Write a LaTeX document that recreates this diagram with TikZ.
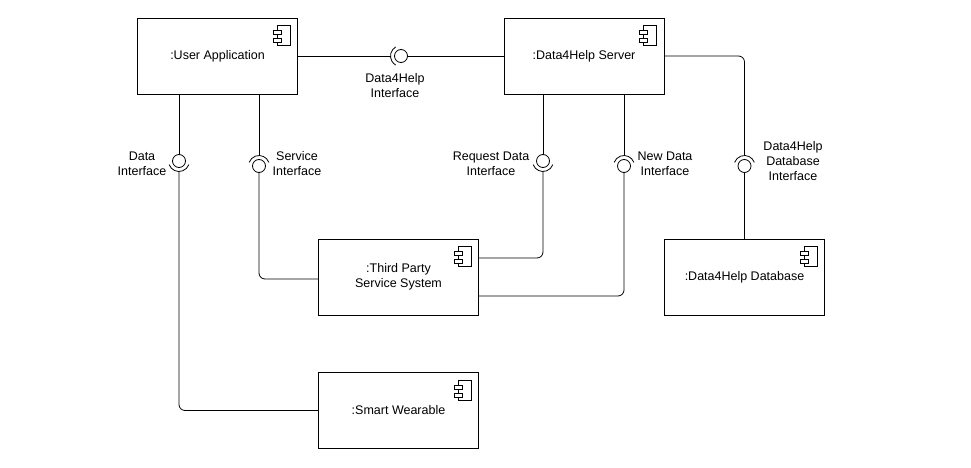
\documentclass[tikz,border=0pt]{standalone}
\usepackage{fontspec}
\setmainfont{Liberation Sans}

% component symbol in the upper right corner of a box
\newcommand{\compicon}[1]{
\draw ([shift={(-21,-8)}]#1.north east) rectangle ++(13,-20);
\draw[fill=white] ([shift={(-25,-13)}]#1.north east) rectangle ++(8,-4);
\draw[fill=white] ([shift={(-25,-21)}]#1.north east) rectangle ++(8,-4);
}

% socket arc round a lollipop
\newcommand{\socket}[3]{
\draw ([shift={(#2:10.5)}]#1.center) arc[start angle=#2, end angle=#3, radius=10.5];
}

\begin{document}
\begin{tikzpicture}[x=1pt, y=1pt, line width=0.8pt]

\tikzstyle{every node} = [font=\fontsize{12.5}{15}\selectfont]
\tikzstyle{comp} = [rectangle, draw, minimum width=160pt, minimum height=76pt, align=center, inner sep=0pt]
\tikzstyle{lolli} = [circle, draw, minimum size=13pt, inner sep=0pt]
\tikzstyle{lbl} = [align=center, inner sep=0pt]

\useasboundingbox (0,0) rectangle (971,-468);

\node[comp] (app) at (217.5,-56) {:User Application};
\node[comp] (srv) at (584,-56) {:Data4Help Server};
\node[comp] (tps) at (398.5,-277) {:Third Party\\Service System};
\node[comp] (wear) at (398.5,-410.5) {:Smart Wearable};
\node[comp] (db) at (744.5,-277) {:Data4Help Database};

\compicon{app}
\compicon{srv}
\compicon{tps}
\compicon{wear}
\compicon{db}

\node[lolli] (d4hi) at (401,-56) {};
\node[lolli] (dat) at (179,-161) {};
\node[lolli] (svc) at (259,-166) {};
\node[lolli] (req) at (543,-161) {};
\node[lolli] (new) at (624,-166) {};
\node[lolli] (dbi) at (744.5,-166) {};

\socket{d4hi}{120}{240}
\socket{dat}{200}{340}
\socket{svc}{20}{160}
\socket{req}{200}{340}
\socket{new}{20}{160}
\socket{dbi}{20}{160}

\draw (app.east) -- ([xshift=-10.5pt]d4hi.center);
\draw (d4hi.east) -- (srv.west);

\draw (app.south -| dat) -- (dat.north);
\draw[rounded corners=6pt] ([yshift=-10.5pt]dat.center) |- (wear.west);
\draw (app.south -| svc) -- ([yshift=10.5pt]svc.center);
\draw[rounded corners=6pt] (svc.south) |- ([yshift=-2pt]tps.west);

\draw (srv.south -| req) -- (req.north);
\draw[rounded corners=6pt] ([yshift=-10.5pt]req.center) |- ([yshift=19pt]tps.east);
\draw (srv.south -| new) -- ([yshift=10.5pt]new.center);
\draw[rounded corners=6pt] (new.south) |- ([yshift=-19pt]tps.east);

\draw[rounded corners=6pt] (srv.east) -| ([yshift=10.5pt]dbi.center);
\draw (dbi.south) -- (db.north);

\node[lbl] (ld4hi) at (395,-86) {Data4Help\\Interface};
\node[lbl] (ldat) at (142,-164) {Data\\Interface};
\node[lbl] (lsvc) at (297,-164) {Service\\Interface};
\node[lbl] (lreq) at (491,-164) {Request Data\\Interface};
\node[lbl] (lnew) at (665,-164) {New Data\\Interface};
\node[lbl] (ldbi) at (793,-161) {Data4Help\\Database\\Interface};
\end{tikzpicture}
\end{document}
